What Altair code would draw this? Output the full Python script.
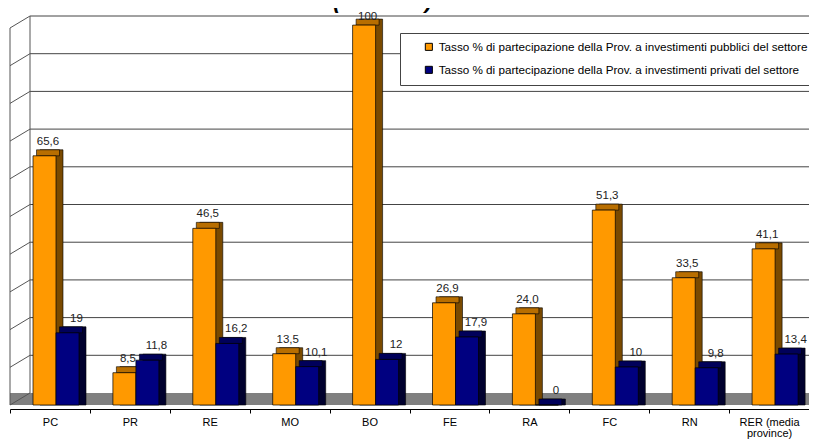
import altair as alt
import pandas as pd

categories = ["PC", "PR", "RE", "MO", "BO", "FE", "RA", "FC", "RN", "RER (media province)"]
serie_pub = "Tasso % di partecipazione della Prov. a investimenti pubblici del settore"
serie_priv = "Tasso % di partecipazione della Prov. a investimenti privati del settore"
pubblici = [65.6, 8.5, 46.5, 13.5, 100, 26.9, 24.0, 51.3, 33.5, 41.1]
privati = [19, 11.8, 16.2, 10.1, 12, 17.9, 0, 10, 9.8, 13.4]
labels_pub = ["65,6", "8,5", "46,5", "13,5", "100", "26,9", "24,0", "51,3", "33,5", "41,1"]
labels_priv = ["19", "11,8", "16,2", "10,1", "12", "17,9", "0", "10", "9,8", "13,4"]
grid_vals = [0, 10, 20, 30, 40, 50, 60, 70, 80, 90, 100]
title_text = "(valori %) 2004"

FONT = "Liberation Sans"
W, H = 799, 389
DEPTH = 12          # vertical depth of the 3D floor in px
GRID_LO = -3.18     # grid scale low end so that 0 sits on the back floor edge

rows = []
for c, v, l in zip(categories, pubblici, labels_pub):
    rows.append({"category": c, "serie": serie_pub, "value": v, "label": l})
for c, v, l in zip(categories, privati, labels_priv):
    rows.append({"category": c, "serie": serie_priv, "value": v, "label": l})
df = pd.DataFrame(rows)
grid_df = pd.DataFrame({"g": grid_vals})
one = pd.DataFrame({"a": [0]})

series = [serie_pub, serie_priv]

x_enc = alt.X(
    "category:N", sort=categories,
    scale=alt.Scale(paddingInner=0, paddingOuter=0),
    axis=alt.Axis(
        title=None, labelAngle=0, offset=4, domainColor="black", tickColor="black",
        tickSize=4, tickBand="extent", labelPadding=3, labelFontSize=11, labelColor="black",
        labelFont=FONT, labelLineHeight=11, grid=False,
        labelExpr="datum.label == 'RER (media province)' ? ['RER (media', 'province)'] : datum.label",
    ),
)


def xo(r0, r1, kind="band"):
    if kind == "band":
        sc = alt.Scale(type="band", domain=series, range=[r0, r1], paddingOuter=0, paddingInner=0)
    else:
        sc = alt.Scale(type="point", domain=series, range=[r0, r1], padding=0)
    return alt.XOffset("serie:N", sort=series, scale=sc)


y_scale = alt.Scale(domain=[0, 102.4])
y_enc = alt.Y("value:Q", scale=y_scale, axis=None)
grid_scale = alt.Scale(domain=[GRID_LO, 100])

floor = alt.Chart(one).mark_rect(color="#808080").encode(
    x=alt.value(0), x2=alt.value(W), y=alt.value(H - DEPTH), y2=alt.value(H)
)
grid = alt.Chart(grid_df).transform_filter("datum.g > 0").mark_rule(color="#444", strokeWidth=1).encode(
    x=alt.value(20), x2=alt.value(W),
    y=alt.Y("g:Q", scale=grid_scale, axis=None),
)
diag = alt.Chart(grid_df).transform_calculate(g2=f"datum.g + ({GRID_LO})").mark_rule(
    color="#555", strokeWidth=1
).encode(
    x=alt.value(20), x2=alt.value(0),
    y=alt.Y("g:Q", scale=grid_scale, axis=None), y2="g2:Q",
)
back_v = alt.Chart(one).mark_rule(color="#555").encode(x=alt.value(20), y=alt.value(0), y2=alt.value(H - DEPTH))
front_v = alt.Chart(one).mark_rule(color="#555").encode(x=alt.value(0), y=alt.value(DEPTH), y2=alt.value(H))

side = alt.Chart(df).mark_bar(yOffset=-6, y2Offset=0, stroke="black", strokeWidth=0.6).encode(
    x=x_enc, xOffset=xo(30, 76), y=y_enc, y2=alt.datum(0),
    color=alt.Color("serie:N", scale=alt.Scale(domain=series, range=["#7A4A00", "#00002E"]), legend=None),
)
top = alt.Chart(df).mark_bar(yOffset=-6, y2Offset=0, stroke="black", strokeWidth=0.6).encode(
    x=x_enc, xOffset=xo(26.5, 72.5), y=y_enc, y2=alt.Y2("value:Q"),
    color=alt.Color("serie:N", scale=alt.Scale(domain=series, range=["#B86E00", "#00005A"]), legend=None),
)
front = alt.Chart(df).mark_bar(stroke="black", strokeWidth=0.7).encode(
    x=x_enc, xOffset=xo(23, 69), y=y_enc,
    color=alt.Color(
        "serie:N", scale=alt.Scale(domain=series, range=["#FF9900", "#000080"]),
        legend=alt.Legend(
            title=None, orient="none", legendX=390, legendY=17, direction="vertical",
            fillColor="white", strokeColor="#444", padding=8, symbolOffset=15,
            symbolType="square", symbolSize=50, symbolStrokeColor="black", symbolStrokeWidth=1,
            labelFont=FONT, labelFontSize=11.7, labelColor="black", rowPadding=10, labelLimit=600,
        ),
    ),
)
text_low = alt.Chart(df).transform_filter("datum.value < 90").mark_text(
    dy=-11, baseline="alphabetic", fontSize=11.5, font=FONT, color="#222"
).encode(
    x=x_enc, xOffset=xo(38, 66.5, "point"), y=y_enc, text="label:N",
)
text_high = alt.Chart(df).transform_filter("datum.value >= 90").mark_text(
    dy=-5, baseline="alphabetic", fontSize=11.5, font=FONT, color="#222"
).encode(
    x=x_enc, xOffset=xo(38, 66.5, "point"), y=y_enc, text="label:N",
)
title = alt.Chart(one).mark_text(
    text=title_text, fontSize=22, fontWeight="bold", fontStyle="italic", font=FONT, color="black",
    baseline="alphabetic",
).encode(x=alt.value(400), y=alt.value(-8))

chart = alt.layer(floor, grid, diag, back_v, front_v, side, top, front, text_low, text_high, title).resolve_scale(
    y="independent", color="independent", xOffset="independent"
).properties(
    width=W, height=H,
    autosize=alt.AutoSizeParams(type="none"),
    padding={"left": 2, "top": 8, "right": 0, "bottom": 34},
    background="white",
).configure_view(stroke=None)

chart.save("out.html", embed_options={"renderer": "svg", "actions": False})
